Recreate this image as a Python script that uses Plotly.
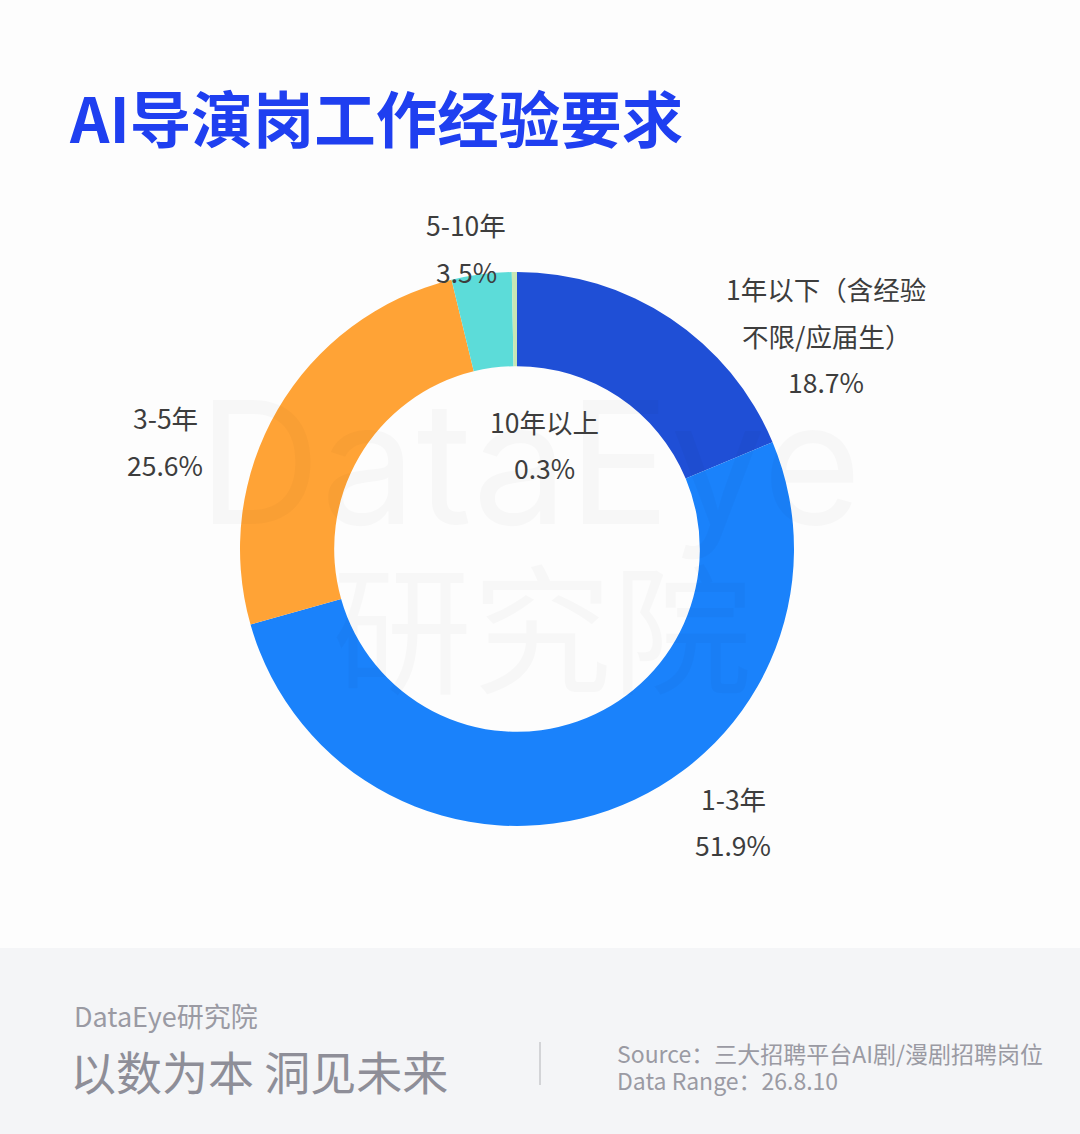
import plotly.graph_objects as go

W, H = 1080, 1134

# data
categories = ['1年以下（含经验\n不限/应届生）', '1-3年', '3-5年', '5-10年', '10年以上']
shares = [18.7, 51.9, 25.6, 3.5, 0.3]
colors = ['#1f4fd6', '#1a82fb', '#ffa336', '#5cdcd9', '#c8e6b4']
# label anchor positions in pixels (center of first line)
label_pos = [(826, 289), (733, 798), (165, 418), (466, 225), (544, 421)]

title = 'AI导演岗工作经验要求'
brand = 'DataEye研究院'
slogan = '以数为本 洞见未来'
source = 'Source：三大招聘平台AI剧/漫剧招聘岗位'
data_range = 'Data Range：26.8.10'

FONT = 'Noto Sans CJK SC'
LINE_GAP = 46


def px(x, y):
    return x / W, 1 - y / H


def text_at(x, y, text, size, color, anchor='center', family=FONT):
    ax, ay = px(x, y)
    return dict(x=ax, y=ay, xref='paper', yref='paper', xanchor=anchor, yanchor='middle',
                text=text, showarrow=False, font=dict(family=family, size=size, color=color))


fig = go.Figure()

fig.add_trace(go.Pie(
    labels=[c.replace('\n', '') for c in categories],
    values=shares,
    sort=False,
    direction='clockwise',
    rotation=0,
    hole=0.66,
    marker=dict(colors=colors, line=dict(width=0)),
    textinfo='none',
    hoverinfo='label+percent',
    showlegend=False,
    domain=dict(x=[240 / W, 794 / W], y=[1 - 826 / H, 1 - 272 / H]),
))

annotations = []

# watermark
annotations.append(text_at(530, 462, 'DataEye', 170, 'rgba(0,0,0,0.025)', family='Inter'))
annotations.append(text_at(542, 622, '研究院', 140, 'rgba(0,0,0,0.025)'))

# slice labels, one annotation per line
for cat, val, (lx, ly) in zip(categories, shares, label_pos):
    lines = cat.split('\n') + [f'{val:.1f}%']
    for i, line in enumerate(lines):
        annotations.append(text_at(lx, ly + i * LINE_GAP, line, 26.5, '#3d3d3d'))

# title
annotations.append(text_at(67, 116, f'<b>{title}</b>', 61.5, '#1f3ff0', anchor='left'))

# footer texts
annotations.append(text_at(72, 1015, brand, 27, '#9a9aa3', anchor='left'))
annotations.append(text_at(68, 1070, slogan, 46, '#8e8e98', anchor='left'))
annotations.append(text_at(615, 1053, source, 23, '#9a9aa3', anchor='left'))
annotations.append(text_at(615, 1080, data_range, 23, '#9a9aa3', anchor='left'))

shapes = [
    dict(type='rect', xref='paper', yref='paper', x0=0, x1=1, y0=0, y1=1 - 948 / H,
         fillcolor='#f4f5f7', line=dict(width=0), layer='below'),
    dict(type='line', xref='paper', yref='paper', x0=540 / W, x1=540 / W,
         y0=1 - 1085 / H, y1=1 - 1042 / H, line=dict(color='#c8c8cc', width=1.5)),
]

fig.update_layout(
    width=W, height=H,
    margin=dict(l=0, r=0, t=0, b=0),
    paper_bgcolor='#fdfdfd',
    plot_bgcolor='#fdfdfd',
    annotations=annotations,
    shapes=shapes,
)

fig.write_html('out.html', config={'displayModeBar': False},
               post_script="document.body.style.margin='0';")
